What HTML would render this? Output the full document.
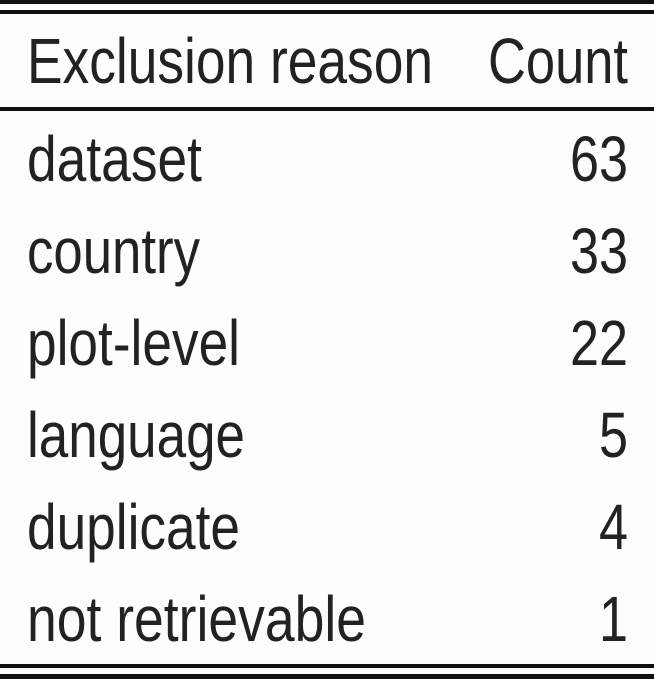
<!DOCTYPE html>
<html><head><meta charset="utf-8"><style>
html,body{margin:0;padding:0;background:#fdfdfd}
svg{display:block}
text{font-family:"Liberation Sans",sans-serif;font-size:64px;fill:#222}
</style></head><body>
<svg width="654" height="679" viewBox="0 0 654 679">
<rect x="0" y="0" width="654" height="4" fill="#111"/>
<rect x="0" y="10" width="654" height="4" fill="#111"/>
<text x="27" y="83" textLength="406" lengthAdjust="spacingAndGlyphs">Exclusion reason</text>
<text x="628" y="83" text-anchor="end" textLength="140" lengthAdjust="spacingAndGlyphs">Count</text>
<rect x="0" y="107" width="654" height="4" fill="#111"/>
<g id="rows"></g>
<rect x="0" y="664" width="654" height="4" fill="#111"/>
<rect x="0" y="674" width="654" height="5" fill="#111"/>
</svg>
<script>
const reasons=["dataset","country","plot-level","language","duplicate","not retrievable"];
const counts=[63,33,22,5,4,1];
const labelWidths=[175,173,213,218,213,339];
const g=document.getElementById('rows');
const ns='http://www.w3.org/2000/svg';
reasons.forEach((r,i)=>{
  const y=181+i*92;
  const t=document.createElementNS(ns,'text');
  t.setAttribute('x',27);t.setAttribute('y',y);
  t.setAttribute('textLength',labelWidths[i]);t.setAttribute('lengthAdjust','spacingAndGlyphs');
  t.textContent=r;
  
  
  g.appendChild(t);
  const c=document.createElementNS(ns,'text');
  c.setAttribute('x',628);c.setAttribute('y',y);c.setAttribute('text-anchor','end');
  const s=String(counts[i]);
  c.setAttribute('textLength',s.length*29);c.setAttribute('lengthAdjust','spacingAndGlyphs');
  c.textContent=s;
  
  
  g.appendChild(c);
});
</script>
</body></html>
